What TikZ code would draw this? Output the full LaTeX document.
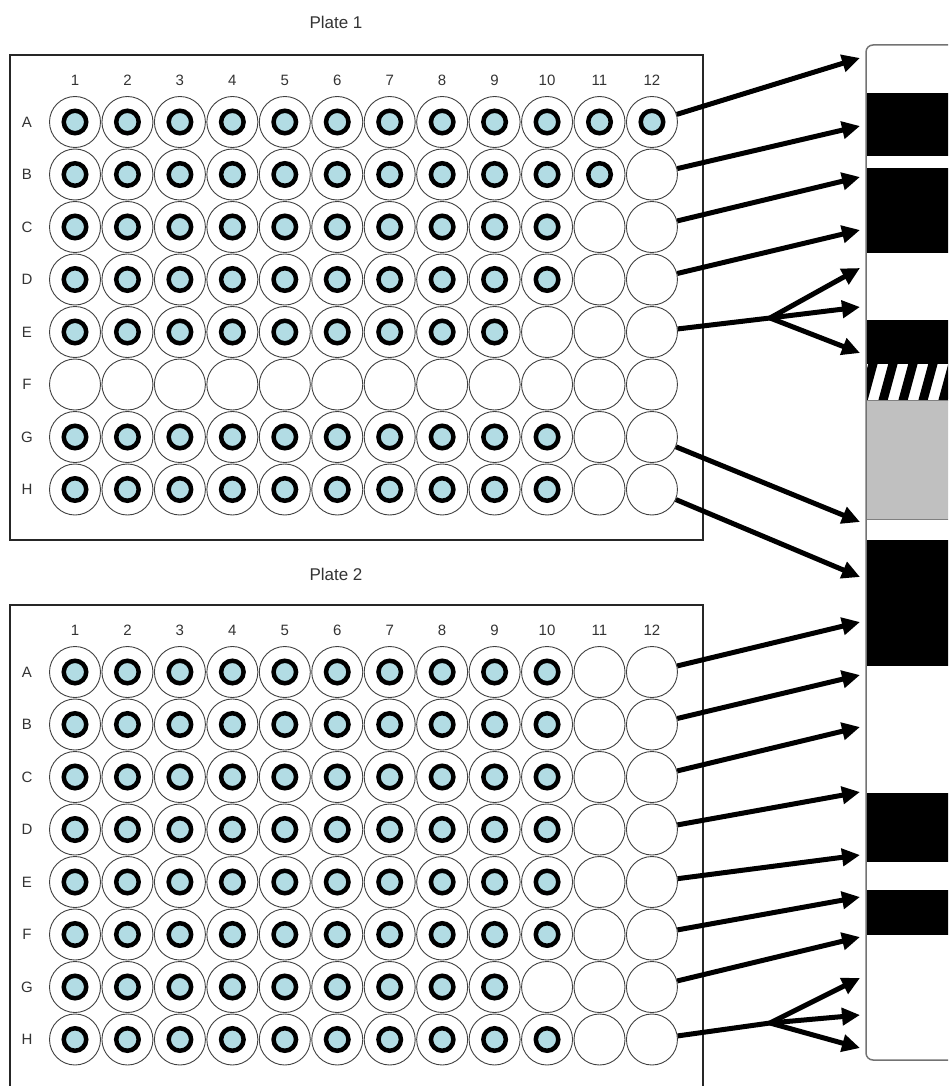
\documentclass[tikz,border=0pt]{standalone}
\usepackage{fontspec}
\setmainfont{Liberation Sans}
\usepackage{xcolor}
\usepackage{tikz}
\usetikzlibrary{arrows.meta, positioning, calc}
\definecolor{wellblue}{RGB}{178,220,228}
\definecolor{bargray}{RGB}{192,192,192}
\tikzset{
  well/.style   = {circle, draw=black!75, line width=0.9pt, inner sep=0pt,
                   minimum size=51pt},
  core/.style   = {circle, draw=black, line width=4.5pt, fill=wellblue,
                   inner sep=0pt, minimum size=22.5pt},
  lbl/.style    = {font=\fontsize{15}{17}\selectfont, text=black!80},
  ttl/.style    = {font=\fontsize{17}{19}\selectfont, text=black!80},
  plate/.style  = {draw=black!85, line width=1.2pt},
  barline/.style = {draw=black!55, line width=1.5pt},
  hit/.style    = {-{Triangle[length=18pt,width=17pt]}, line width=5pt},
  stem/.style   = {line width=5pt},
}

\begin{document}
\begin{tikzpicture}[x=1pt, y=-1pt]
  \useasboundingbox (0,0) rectangle (948,1086);
  \clip (0,0) rectangle (948,1086);

  % plate 1
  \node[ttl] (title1) at (336,22) {Plate 1};
  \draw[plate] (10,55) rectangle (703,540);
  \foreach \c in {1,...,12}
    \node[lbl] (col1\c) at ({75+(\c-1)*52.45},80) {\c};
  \foreach \row/\n [count=\r] in {A/12,B/11,C/10,D/10,E/9,F/0,G/10,H/10}{
    \node[lbl] (row1\row) at (27,{122+(\r-1)*52.5}) {\row};
    \foreach \c in {1,...,12}{
      \node[well] (p1\row\c) at ({75+(\c-1)*52.45},{122+(\r-1)*52.5}) {};
      \ifnum\c>\n\relax\else \node[core] at (p1\row\c) {};\fi
    }
  }

  % plate 2
  \node[ttl] (title2) at (336,574) {Plate 2};
  \draw[plate] (10,1100) |- (703,605) -- (703,1100);
  \foreach \c in {1,...,12}
    \node[lbl] (col2\c) at ({75+(\c-1)*52.45},630) {\c};
  \foreach \row/\n [count=\r] in {A/10,B/10,C/10,D/10,E/10,F/10,G/9,H/10}{
    \node[lbl] (row2\row) at (27,{672+(\r-1)*52.5}) {\row};
    \foreach \c in {1,...,12}{
      \node[well] (p2\row\c) at ({75+(\c-1)*52.45},{672+(\r-1)*52.5}) {};
      \ifnum\c>\n\relax\else \node[core] at (p2\row\c) {};\fi
    }
  }

  % gel lane
  \fill[black] (866,93) rectangle (990,156);
  \fill[black] (866,168) rectangle (990,253);
  \fill[black] (866,320) rectangle (990,364);
  \begin{scope}
    \clip (866,364) rectangle (990,400);
    \foreach \s in {0,...,7}
      \draw[line width=9pt] ({862+\s*20},404) -- ({874+\s*20},360);
  \end{scope}
  \filldraw[fill=bargray, draw=black!50, line width=1pt] (866,400) rectangle (990,519);
  \fill[black] (866,540) rectangle (990,666);
  \fill[black] (866,793) rectangle (990,862);
  \fill[black] (866,890) rectangle (990,935);
  \draw[barline, rounded corners=7pt] (866,45) rectangle (990,1060);

  % lane inlets
  \coordinate (in1A) at (860,58);
  \coordinate (in1B) at (860,126);
  \coordinate (in1C) at (860,177);
  \coordinate (in1D) at (860,230);
  \coordinate (fk1) at (770,318);
  \coordinate (in1E1) at (860,268);
  \coordinate (in1E2) at (860,307);
  \coordinate (in1E3) at (860,353);
  \coordinate (in1G) at (860,522);
  \coordinate (in1H) at (860,577);
  \coordinate (in2A) at (860,622);
  \coordinate (in2B) at (860,675);
  \coordinate (in2C) at (860,727);
  \coordinate (in2D) at (860,792);
  \coordinate (in2E) at (860,855);
  \coordinate (in2F) at (860,897);
  \coordinate (in2G) at (860,937);
  \coordinate (fk2) at (770,1023);
  \coordinate (in2H1) at (860,978);
  \coordinate (in2H2) at (860,1015);
  \coordinate (in2H3) at (860,1048);

  \foreach \row in {A,B,C,D,G,H}
    \draw[hit] (p1\row12) -- (in1\row);
  \draw[stem] (p1E12) -- (fk1);
  \foreach \k in {1,2,3}
    \draw[hit] (fk1) -- (in1E\k);

  \foreach \row in {A,B,C,D,E,F,G}
    \draw[hit] (p2\row12) -- (in2\row);
  \draw[stem] (p2H12) -- (fk2);
  \foreach \k in {1,2,3}
    \draw[hit] (fk2) -- (in2H\k);
\end{tikzpicture}
\end{document}
